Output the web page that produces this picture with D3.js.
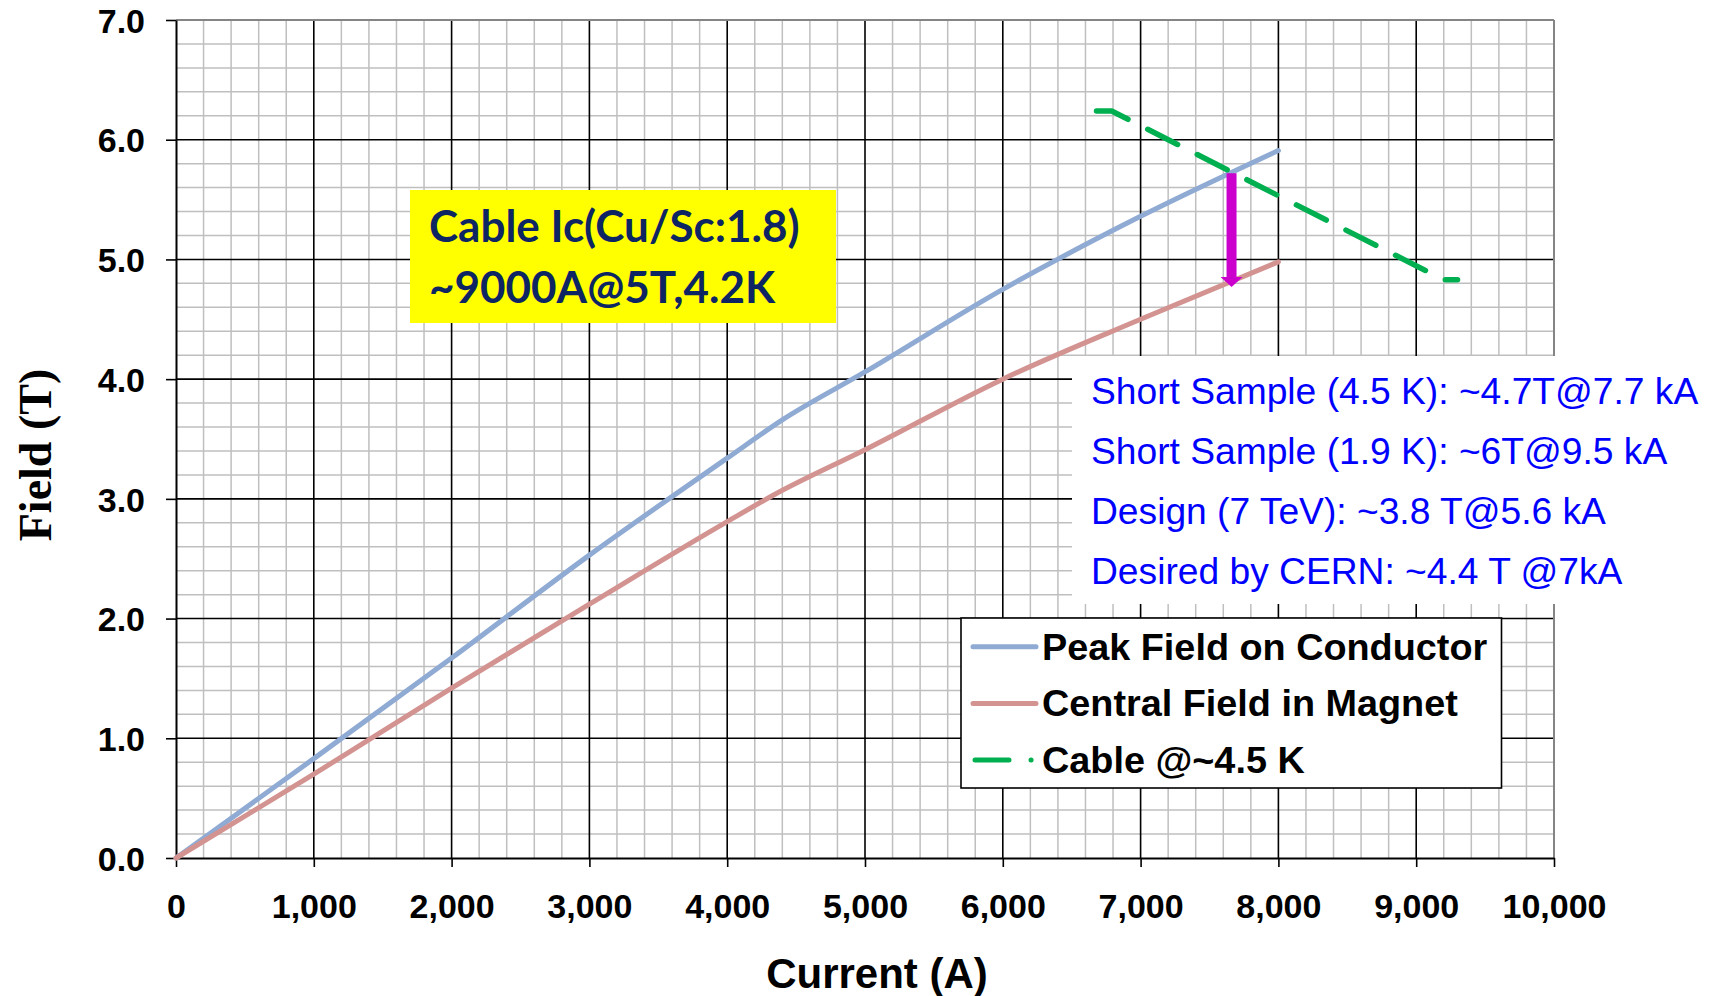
<!DOCTYPE html>
<html>
<head>
<meta charset="utf-8">
<script src="https://cdn.jsdelivr.net/npm/d3@7/dist/d3.min.js"></script>
<style>
  html, body { margin: 0; padding: 0; background: #fff; }
  svg { display: block; }
</style>
</head>
<body>
<svg id="chart" width="1711" height="996"></svg>
<script>
// ---------------- DATA ----------------
const peakCurrent   = [0, 1000, 2000, 3000, 4000, 4400, 5000, 6000, 7000, 8000];
const peakField     = [0, 0.83, 1.67, 2.53, 3.34, 3.66, 4.06, 4.75, 5.36, 5.91];
const centralCurrent = [0, 1000, 2000, 3000, 4000, 4350, 5000, 6000, 7000, 8000];
const centralField   = [0, 0.70, 1.42, 2.12, 2.81, 3.04, 3.41, 4.00, 4.50, 4.98];
const cableCurrent  = [6680, 6790, 9200, 9300];
const cableField    = [6.24, 6.24, 4.83, 4.83];
const xTicks = [0, 1000, 2000, 3000, 4000, 5000, 6000, 7000, 8000, 9000, 10000];
const yTicks = [0, 1, 2, 3, 4, 5, 6, 7];
const arrowCurrent = [7660];
const arrowField = [5.72, 4.77];
const legendLabels = ["Peak Field on Conductor", "Central Field in Magnet", "Cable @~4.5 K"];
const boxLines = ["Cable Ic(Cu/Sc:1.8)", "~9000A@5T,4.2K"];
const noteLines = [
  "Short Sample (4.5 K): ~4.7T@7.7 kA",
  "Short Sample (1.9 K): ~6T@9.5 kA",
  "Design (7 TeV): ~3.8 T@5.6 kA",
  "Desired by CERN: ~4.4 T @7kA"
];
const xTitle = "Current (A)";
const yTitle = "Field (T)";

// ---------------- LAYOUT ----------------
const svg = d3.select("#chart");
const X0 = 176, X1 = 1554, Y0 = 858, Y1 = 20;
const x = d3.scaleLinear().domain([0, 10000]).range([X0, X1]);
const y = d3.scaleLinear().domain([0, 7]).range([Y0, Y1]);

const colBlue = "#8FAAD3", colRed = "#D39391", colGreen = "#00B050", colMag = "#CC00CC";
const sans = "'Liberation Sans', Arial, sans-serif";

// grid
const grid = svg.append("g");
const minorX = d3.range(0, 10001, 200).filter(v => v % 1000 !== 0);
const minorY = d3.range(0, 7.001, 0.2).map(v => +v.toFixed(1)).filter(v => Math.abs(v - Math.round(v)) > 1e-6);
grid.selectAll(".mx").data(minorX).join("line")
  .attr("x1", d => x(d)).attr("x2", d => x(d)).attr("y1", Y1).attr("y2", Y0)
  .attr("stroke", "#BFBFBF").attr("stroke-width", 1.5);
grid.selectAll(".my").data(minorY).join("line")
  .attr("x1", X0).attr("x2", X1).attr("y1", d => y(d)).attr("y2", d => y(d))
  .attr("stroke", "#BFBFBF").attr("stroke-width", 1.5);
grid.selectAll(".Mx").data(xTicks.filter(v => v > 0 && v < 10000)).join("line")
  .attr("x1", d => x(d)).attr("x2", d => x(d)).attr("y1", Y1).attr("y2", Y0)
  .attr("stroke", "#000").attr("stroke-width", 1.6);
grid.selectAll(".My").data(yTicks.filter(v => v > 0 && v < 7)).join("line")
  .attr("x1", X0).attr("x2", X1).attr("y1", d => y(d)).attr("y2", d => y(d))
  .attr("stroke", "#000").attr("stroke-width", 1.6);
// plot border top/right (gray)
svg.append("line").attr("x1", X0).attr("x2", X1).attr("y1", y(7)).attr("y2", y(7))
  .attr("stroke", "#858585").attr("stroke-width", 2);
svg.append("line").attr("x1", x(10000)).attr("x2", x(10000)).attr("y1", Y1).attr("y2", Y0)
  .attr("stroke", "#858585").attr("stroke-width", 2);

// axes
const xAxis = svg.append("g").attr("transform", `translate(0,${Y0})`)
  .call(d3.axisBottom(x).tickValues(xTicks).tickFormat(d3.format(",")).tickSize(9).tickSizeOuter(0));
xAxis.select(".domain").attr("stroke", "#000").attr("stroke-width", 2);
xAxis.selectAll(".tick line").attr("stroke", "#000").attr("stroke-width", 1.6);
xAxis.selectAll(".tick text").attr("y", 60).attr("dy", 0)
  .attr("font-family", sans).attr("font-weight", "bold").attr("font-size", 34).attr("fill", "#000");

const yAxis = svg.append("g").attr("transform", `translate(${X0},0)`)
  .call(d3.axisLeft(y).tickValues(yTicks).tickFormat(d3.format(".1f")).tickSize(10).tickPadding(21).tickSizeOuter(0));
yAxis.select(".domain").attr("stroke", "#000").attr("stroke-width", 2);
yAxis.selectAll(".tick line").attr("stroke", "#000").attr("stroke-width", 1.6);
yAxis.selectAll(".tick text").attr("dy", "0.36em")
  .attr("font-family", sans).attr("font-weight", "bold").attr("font-size", 34).attr("fill", "#000");

// titles
svg.append("text").attr("x", 877).attr("y", 988).attr("text-anchor", "middle")
  .attr("font-family", sans).attr("font-weight", "bold").attr("font-size", 42).text(xTitle);
svg.append("text").attr("transform", "translate(51,455) rotate(-90)").attr("text-anchor", "middle")
  .attr("font-family", "'Liberation Serif', 'Times New Roman', serif").attr("font-weight", "bold")
  .attr("font-size", 46).text(yTitle);

// series
const lineGen = d3.line().x(d => x(d[0])).y(d => y(d[1]));
svg.append("path").datum(d3.zip(peakCurrent, peakField))
  .attr("d", lineGen.curve(d3.curveMonotoneX)).attr("fill", "none")
  .attr("stroke", colBlue).attr("stroke-width", 5).attr("stroke-linecap", "round");
svg.append("path").datum(d3.zip(centralCurrent, centralField))
  .attr("d", lineGen.curve(d3.curveMonotoneX)).attr("fill", "none")
  .attr("stroke", colRed).attr("stroke-width", 5).attr("stroke-linecap", "round");
svg.append("path").datum(d3.zip(cableCurrent, cableField))
  .attr("d", d3.line().x(d => x(d[0])).y(d => y(d[1])).curve(d3.curveLinear)).attr("fill", "none")
  .attr("stroke", colGreen).attr("stroke-width", 5.5).attr("stroke-linecap", "round")
  .attr("stroke-linejoin", "round").attr("stroke-dasharray", "33.5,22.1");

// arrow
const ax = x(arrowCurrent[0]), ayTop = y(arrowField[0]), ayTip = y(arrowField[1]);
svg.append("line").attr("x1", ax).attr("x2", ax).attr("y1", ayTop).attr("y2", ayTip - 9)
  .attr("stroke", colMag).attr("stroke-width", 10);
svg.append("path")
  .attr("d", `M${ax - 11},${ayTip - 10} L${ax + 11},${ayTip - 10} L${ax},${ayTip} Z`)
  .attr("fill", colMag);

// white note box + notes
svg.append("rect").attr("x", 1072).attr("y", 356).attr("width", 1711 - 1072).attr("height", 248).attr("fill", "#fff");
svg.append("g").selectAll("text").data(noteLines).join("text")
  .attr("x", 1091).attr("y", (d, i) => 403.5 + i * 60)
  .attr("font-family", sans).attr("font-size", 37.2).attr("fill", "#0000FF").text(d => d);

// legend
const lg = svg.append("g");
lg.append("rect").attr("x", 961).attr("y", 618).attr("width", 540.5).attr("height", 170)
  .attr("fill", "#fff").attr("stroke", "#000").attr("stroke-width", 1.6);
const legendColors = [colBlue, colRed, colGreen];
const legendDash = [null, null, "34,22,0.1,60"];
lg.selectAll("line.l").data(legendLabels).join("line")
  .attr("x1", (d, i) => i === 2 ? 975 : 973).attr("x2", 1036)
  .attr("y1", (d, i) => 646.7 + i * 56.7).attr("y2", (d, i) => 646.7 + i * 56.7)
  .attr("stroke", (d, i) => legendColors[i]).attr("stroke-width", 5)
  .attr("stroke-linecap", "round").attr("stroke-dasharray", (d, i) => legendDash[i]);
lg.selectAll("text").data(legendLabels).join("text")
  .attr("x", 1042).attr("y", (d, i) => 659.5 + i * 56.7)
  .attr("font-family", sans).attr("font-weight", "bold").attr("font-size", 37.8).attr("fill", "#000").text(d => d);

// yellow box
svg.append("rect").attr("x", 410).attr("y", 190).attr("width", 426).attr("height", 133).attr("fill", "#FFFF00");
svg.append("g").selectAll("text").data(boxLines).join("text")
  .attr("x", 429).attr("y", (d, i) => 242 + i * 61)
  .attr("font-family", "Lato, 'Open Sans', sans-serif").attr("font-weight", "bold")
  .attr("font-size", 44).attr("fill", "#0D2562").text(d => d);
</script>
</body>
</html>
